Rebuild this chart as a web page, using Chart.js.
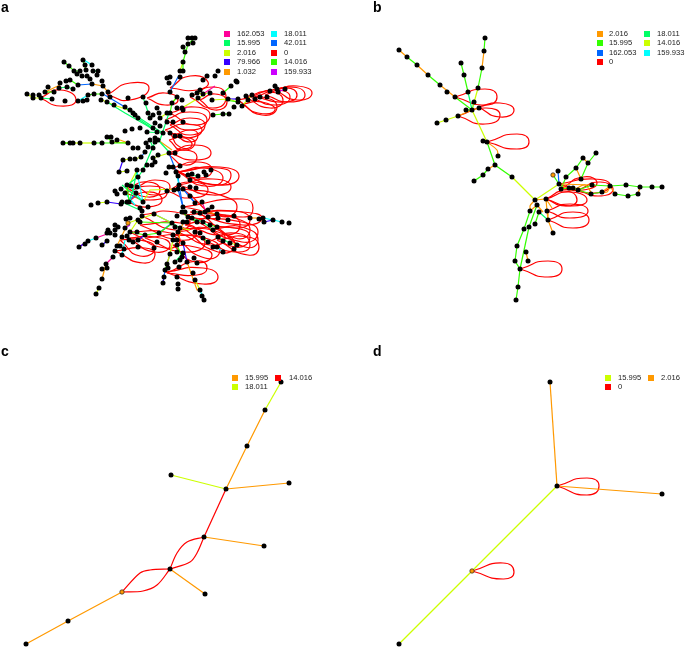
<!DOCTYPE html>
<html>
<head>
<meta charset="utf-8">
<title>Mass difference networks</title>
<script src="https://cdn.jsdelivr.net/npm/chart.js@4"></script>
<style>
  html, body { margin: 0; padding: 0; background: #fff; }
  #page { position: relative; width: 685px; height: 647px; overflow: hidden; font-family: "Liberation Sans", sans-serif; }
  canvas { position: absolute; }
  .letter { position: absolute; font-weight: bold; font-size: 14px; line-height: 14px; color: #000; }
  .swatch { position: absolute; width: 6px; height: 6px; }
  .label { position: absolute; font-size: 7.6px; line-height: 10px; color: #222; white-space: nowrap; }
</style>
</head>
<body>
<div id="page"></div>
<script>
// legend values and colours, column by column
const labelsA = ['162.053', '15.995', '2.016', '79.966', '1.032', '18.011', '42.011', '0', '14.016', '159.933'];
const colorsA = ['#FF0099', '#00FF66', '#CCFF00', '#3300FF', '#FF9900', '#00FFFF', '#0066FF', '#FF0000', '#33FF00', '#CC00FF'];
const labelsB = ['2.016', '15.995', '162.053', '0', '18.011', '14.016', '159.933'];
const colorsB = ['#FF9900', '#33FF00', '#0066FF', '#FF0000', '#00FF66', '#CCFF00', '#00FFFF'];
const labelsC = ['15.995', '18.011', '14.016'];
const colorsC = ['#FF9900', '#CCFF00', '#FF0000'];
const labelsD = ['15.995', '0', '2.016'];
const colorsD = ['#CCFF00', '#FF0000', '#FF9900'];

// nodes (x, y in reference pixels)
const nodesA = [
  [195,38],[192,38],[188,38],[193,43],[188,44],[183,47],[185,52],[183,62],[183,71],[180,71],[180,77],[177,97],[170,77],[167,78],[169,83],[170,92],[172,103],
  [64,62],[69,66],[74,71],[83,60],[92,65],[85,65],[86,70],[80,71],[77,74],[82,76],[93,71],[98,71],[87,76],[90,79],[97,75],[102,81],[78,85],[92,84],[103,86],
  [66,81],[70,80],[60,83],[67,87],[59,88],[48,87],[45,92],[54,92],[73,89],[27,94],[33,95],[33,98],[39,95],[41,98],[52,99],[65,101],[78,101],[83,101],[87,100],
  [88,95],[94,94],[102,94],[101,100],[107,102],[108,92],[110,97],[114,105],[125,107],[128,98],[143,97],[146,103],[130,110],[133,113],[135,115],[138,118],[150,118],
  [157,108],[148,113],[153,115],[159,113],[167,113],[182,100],[192,95],[197,93],[198,98],[203,80],[207,76],[215,76],[218,71],[200,90],[203,94],[210,93],[223,93],
  [231,86],[236,81],[237,82],[228,99],[212,100],[238,99],[238,102],[234,107],[242,106],[246,96],[248,100],[252,95],[255,99],[260,97],[267,97],[270,91],[275,86],
  [277,89],[278,92],[285,89],[213,115],[223,114],[229,114],[182,108],[177,108],[170,113],[183,110],[173,122],[167,122],[160,118],[155,123],[153,128],[157,132],
  [163,133],[170,133],[175,136],[180,136],[183,122],[132,129],[125,131],[140,128],[147,132],[63,143],[70,143],[73,143],[80,143],[94,143],[102,143],[107,137],
  [111,137],[112,142],[128,143],[117,140],[133,148],[138,148],[146,143],[148,147],[155,142],[153,148],[158,140],[169,153],[175,153],[155,138],[150,140],[160,126],
  [123,160],[130,159],[135,159],[119,172],[127,171],[137,170],[141,157],[145,152],[153,158],[155,162],[147,165],[152,165],[143,170],[138,177],[158,155],
  [169,167],[173,167],[180,166],[166,173],[176,172],[178,176],[188,175],[192,174],[198,176],[190,180],[204,172],[211,170],[206,175],[179,185],[167,191],[174,190],
  [178,189],[183,189],[190,187],[196,188],[190,196],[127,185],[131,186],[137,187],[121,189],[115,191],[117,194],[125,193],[136,193],[127,202],[129,202],[122,202],
  [121,204],[107,202],[98,203],[91,205],[143,202],[148,207],[140,208],[142,211],[154,214],[195,203],[202,202],[183,207],[182,212],[185,212],[177,216],[194,212],
  [200,213],[205,212],[212,207],[208,210],[217,214],[188,217],[192,218],[197,222],[203,222],[208,217],[218,218],[228,220],[234,216],[250,218],[259,219],[263,218],
  [264,222],[273,220],[282,222],[289,223],[172,223],[175,227],[183,222],[187,222],[180,228],[173,235],[178,232],[159,233],[195,232],[200,233],[203,238],[208,242],
  [210,225],[213,230],[217,227],[218,237],[223,241],[230,243],[237,245],[234,249],[213,247],[217,247],[223,252],[126,219],[130,218],[138,220],[142,216],[140,222],
  [115,225],[118,227],[108,230],[107,233],[110,233],[115,230],[125,228],[130,232],[137,232],[122,237],[127,236],[115,235],[96,238],[88,241],[85,244],[79,247],
  [107,241],[102,245],[129,240],[133,242],[138,240],[145,235],[138,247],[117,246],[120,246],[115,251],[124,249],[122,255],[113,257],[106,264],[102,269],[107,268],
  [102,279],[99,288],[96,294],[173,240],[177,240],[183,243],[154,248],[157,242],[177,245],[170,254],[177,252],[183,253],[182,257],[175,262],[180,260],[187,262],
  [194,258],[197,263],[167,264],[165,270],[168,268],[179,267],[193,273],[195,280],[177,277],[164,277],[163,283],[178,284],[178,289],[200,290],[202,296],[204,300]
];
const specialNodesA = [[128,223]];
const nodesB = [
  [399,50],[407,57],[417,65],[428,75],[440,85],[447,92],[455,97],[472,110],[485,38],[484,51],[482,68],[478,88],[461,63],[464,75],[468,92],[474,102],[466,110],[479,108],
  [458,116],[446,120],[437,123],[483,141],[487,142],[498,156],[495,165],[512,177],[488,169],[483,175],[474,181],[535,200],[546,199],[537,205],[530,211],[539,212],
  [547,211],[548,220],[553,233],[524,229],[529,227],[535,224],[517,246],[515,261],[526,252],[528,261],[520,269],[518,287],[516,300],[558,171],[559,184],[561,189],
  [566,177],[576,168],[583,158],[588,163],[596,153],[581,179],[569,188],[573,188],[578,190],[592,185],[591,194],[602,192],[610,186],[615,194],[626,185],[628,196],
  [638,194],[640,187],[652,187],[662,187]
];
const specialNodesB = [[553,175]];
const nodesC = [[170,569],[204,537],[226,489],[247,446],[265,410],[281,382],[171,475],[289,483],[264,546],[205,594],[68,621],[26,644]];
const specialNodesC = [[122,592]];
const nodesD = [[550,382],[557,486],[662,494],[399,644]];
const specialNodesD = [[472,571]];

// straight edges: legend value, then polylines as x,y,x,y...
const edgesA = [
  ['14.016', [[183,47,185,52],[183,62,183,71],[195,38,188,44,183,62],[64,62,69,66,74,71,80,71],[83,60,86,70],[45,92,54,92],[66,81,70,80,78,85],[213,115,223,114,229,114],[170,113,172,103,177,97],[223,93,231,86],[88,95,94,94,102,94],[182,212,188,217,197,222],[159,233,173,223],[130,232,145,235,159,233],[203,238,208,242],[210,225,217,227],[165,270,167,264],[140,222,172,223],[177,245,182,257],[63,143,70,143],[94,143,102,143,128,143],[107,137,112,142],[129,202,127,185],[225,100,238,102]]],
  ['15.995', [[107,102,125,113,146,125,157,132],[125,107,140,120,155,130],[135,115,150,125,163,133],[143,97,150,118],[155,142,143,170,138,177,127,185],[147,132,163,133],[122,202,142,211],[137,170,133,190,129,202],[143,202,122,185],[169,113,160,140],[41,98,52,99],[93,71,98,71],[59,88,67,87,73,89],[153,148,150,140],[158,140,170,153],[188,175,198,176],[192,218,203,222,213,230],[172,223,180,228],[194,212,205,212],[218,237,230,243],[175,262,183,253]]],
  ['2.016', [[27,94,33,98,41,98],[63,143,94,143],[177,97,172,103],[102,100,114,105,128,110],[167,113,160,118],[212,100,228,99,238,102],[242,106,252,95],[143,202,150,190,178,189],[119,172,127,171],[123,160,130,159],[135,159,141,157],[137,170,125,193],[98,203,107,202],[128,223,154,214],[154,214,172,223],[130,232,138,220],[167,264,170,254],[99,288,96,294],[200,290,195,280],[173,240,170,254],[153,158,169,153],[183,62,180,71],[203,94,197,93],[182,108,207,93],[237,245,230,243],[112,142,128,143],[180,228,190,230]]],
  ['79.966', [[107,202,121,204],[119,172,127,171],[163,283,164,277],[79,247,88,241],[102,245,107,241],[123,160,119,172],[183,243,187,262],[238,99,228,99],[264,222,273,220],[170,254,167,264],[138,240,145,235]]],
  ['1.032', [[92,84,103,86,108,92],[45,92,60,85],[102,279,106,264],[117,246,128,223],[187,262,197,290,200,290],[250,218,263,218],[183,222,177,245],[126,219,128,223],[205,212,217,214],[172,150,158,140],[120,140,128,143]]],
  ['18.011', [[78,101,88,95],[178,189,179,185,176,172],[143,202,138,177,137,170],[122,255,125,240],[84,60,92,65],[217,247,223,252],[263,218,273,220,282,222],[200,290,204,300],[130,186,143,202],[88,241,96,238],[125,193,135,205]]],
  ['42.011', [[170,92,178,77],[103,94,125,107],[78,85,92,84],[169,153,178,176,179,185,183,207],[154,214,172,223],[178,189,183,207],[172,223,159,233],[145,152,141,157],[135,195,127,202],[195,203,190,196],[163,283,165,270],[183,189,195,203]]],
  ['162.053', [[203,94,215,86],[96,238,107,234],[106,264,113,257],[187,107,183,110],[208,217,202,202],[88,241,79,247]]],
  ['159.933', [[278,92,285,89],[125,228,130,225],[213,247,217,247]]]
];
const edgesB = [
  ['2.016', [[399,50,407,57],[417,65,428,75],[440,85,455,97],[484,51,482,68],[479,108,472,110],[458,116,472,110],[495,165,488,169],[537,205,530,211],[526,252,528,261],[535,200,546,199,547,211,548,220,553,233],[576,168,581,179],[588,163,583,158],[640,187,638,194],[615,194,610,186,602,192],[559,184,592,185]]],
  ['15.995', [[407,57,417,65],[428,75,440,85],[455,97,472,110],[485,38,484,51],[482,68,478,88],[461,63,464,75,468,92],[466,110,472,110],[487,142,495,165,512,177],[488,169,483,175,474,181],[530,211,524,229,517,246,515,261,520,269,518,287,516,300],[529,227,520,269],[535,224,539,212],[529,227,537,205],[559,184,553,175],[561,189,566,177,576,168,583,158],[581,179,588,163,596,153],[561,189,569,188,573,188,578,190,592,185,610,186,626,185,640,187,652,187,662,187],[638,194,628,196,615,194],[602,192,591,194,578,190]]],
  ['18.011', [[468,92,472,110],[539,212,548,220]]],
  ['14.016', [[478,88,472,110],[472,110,487,142],[512,177,535,200],[535,200,559,184],[458,116,446,120,437,123]]],
  ['159.933', [[474,102,472,110]]],
  ['162.053', [[559,184,558,171]]]
];
const edgesC = [
  ['15.995', [[26,644,68,621,122,592],[226,489,247,446,265,410],[226,489,289,483],[204,537,264,546],[170,569,205,594]]],
  ['18.011', [[265,410,281,382],[171,475,226,489]]],
  ['14.016', [[204,537,226,489]]]
];
const edgesD = [
  ['15.995', [[399,644,472,571,557,486]]],
  ['2.016', [[550,382,557,486],[557,486,662,494]]]
];

// curved edges between two nodes, with points
const curvesB = [
  ['2.016', [[487,142,497,150,498,156],[535,200,530,206,531,211],[537,205,543,212],[546,199,552,208],[559,184,572,190,585,185,592,194],[602,192,607,192,610,186]]]
];
const curvesC = [
  ['14.016', [[122,592,140,573,150,570,170,569],[122,592,143,591,157,585,170,569],[170,569,177,553,187,542,204,537],[170,569,190,562,197,553,204,537]]]
];

// self loops: node, upper side, far end, lower side
const loopsA = [
  [40,98,60,90,76,100,60,106],[107,95,130,83,149,88,130,100],[170,88,190,76,208,82,197,90],[190,97,213,87,226,97,213,108],[147,98,165,93,178,100,165,105],[200,100,215,94,227,102,215,110],
  [238,100,262,97,277,107,262,115],[245,97,270,92,283,100,270,108],[250,97,275,90,290,97,275,105],[255,97,285,88,297,95,285,102],[275,90,297,86,312,93,297,100],[265,95,290,87,305,95,290,102],[242,104,262,102,275,110,258,113],
  [170,113,195,107,210,115,195,125],[165,120,190,112,207,120,190,130],[170,125,190,118,205,125,190,135],[165,130,185,124,202,130,185,138],[175,135,190,130,198,135,190,142],[170,133,182,136,192,145,180,147],
  [169,153,195,145,211,153,195,160],[169,140,184,137,195,143,182,150],[169,155,185,150,197,157,185,165],
  [177,172,220,167,239,176,220,185],[178,172,217,168,231,175,217,185],[178,172,205,168,223,178,205,186],[172,168,198,162,212,170,198,178],
  [167,191,190,182,208,190,190,198],[179,185,213,179,231,187,213,195],[125,193,150,186,167,193,150,200],[127,202,147,192,162,200,147,207],[137,187,155,180,170,187,155,195],[127,188,148,182,160,190,148,197],
  [183,189,220,195,237,207,220,216],[183,207,243,199,253,208,243,217],[190,212,243,212,262,218,243,225],[200,213,235,218,250,230,235,238],[217,240,248,237,259,247,248,255],[217,227,245,228,258,240,245,247],[210,230,235,228,250,237,235,247],[208,242,235,233,250,245,235,252],
  [115,251,145,248,155,255,143,263],[140,215,175,212,190,222,175,230],[140,225,180,223,197,232,180,240],[130,232,165,232,180,240,165,248],[128,238,155,237,170,245,155,252],[145,238,185,235,205,243,185,252],
  [173,235,205,238,220,250,205,258],[173,245,195,247,212,255,195,262],[178,232,210,228,225,238,210,245],[185,225,225,215,240,225,225,235],[185,215,235,211,250,220,235,228],[183,228,218,232,235,245,218,252],[190,218,242,222,258,232,242,242],[120,240,140,240,155,248,140,256],
  [165,272,203,268,218,277,203,284],[167,273,197,261,207,268,197,275]
];
const loopsB = [
  [455,97,485,89,497,97,485,105],[478,107,500,103,514,110,500,117],[458,116,485,108,500,115,485,124],[487,142,517,134,529,142,517,149],
  [546,199,565,191,577,200,565,206],[547,211,570,204,588,211,570,218],[548,220,573,212,589,220,573,228],[546,199,570,192,587,200,570,206],
  [561,189,583,177,597,183,583,190],[559,184,593,179,610,185,593,193],[578,190,600,182,613,190,598,196],[520,269,548,261,562,269,548,277]
];
const loopsD = [[557,486,587,478,599,486,587,495],[472,571,503,563,514,572,503,579]];

const panels = [
  { letter: 'a', lx: 1, ly: 0, box: [0, 0, 342, 323], nodes: nodesA, special: specialNodesA, edges: edgesA, curves: [], loops: loopsA, labels: labelsA, colors: colorsA, rows: 5, sx: [224, 271], tx: [237, 284], ty: 34 },
  { letter: 'b', lx: 373, ly: 0, box: [342, 0, 343, 323], nodes: nodesB, special: specialNodesB, edges: edgesB, curves: curvesB, loops: loopsB, labels: labelsB, colors: colorsB, rows: 4, sx: [597, 644], tx: [609, 657], ty: 34 },
  { letter: 'c', lx: 1, ly: 344, box: [0, 323, 342, 324], nodes: nodesC, special: specialNodesC, edges: edgesC, curves: curvesC, loops: [], labels: labelsC, colors: colorsC, rows: 2, sx: [232, 275], tx: [245, 289], ty: 378 },
  { letter: 'd', lx: 373, ly: 344, box: [342, 323, 343, 324], nodes: nodesD, special: specialNodesD, edges: edgesD, curves: [], loops: loopsD, labels: labelsD, colors: colorsD, rows: 2, sx: [605, 648], tx: [618, 661], ty: 378 }
];

function toPoints(flat) {
  const pts = [];
  for (let i = 0; i < flat.length; i += 2) pts.push({ x: flat[i], y: flat[i + 1] });
  return pts;
}

function lineDataset(points, color, tension) {
  return {
    data: points,
    showLine: true,
    borderColor: color,
    borderWidth: 1.2,
    pointRadius: 0,
    tension: tension,
    fill: false,
    clip: false
  };
}

// chart.js paints the first dataset last, so dots go first and loops go last
function buildDatasets(p) {
  const colorOf = label => p.colors[p.labels.indexOf(label)];
  const sets = [];
  sets.push({
    data: p.special.map(n => ({ x: n[0], y: n[1] })),
    showLine: false,
    pointRadius: 2.2,
    pointBackgroundColor: '#FF9900',
    pointBorderColor: '#222',
    pointBorderWidth: 0.7,
    clip: false
  });
  sets.push({
    data: p.nodes.map(n => ({ x: n[0], y: n[1] })),
    showLine: false,
    pointRadius: 2.5,
    pointBackgroundColor: '#000',
    pointBorderWidth: 0,
    clip: false
  });
  p.edges.forEach(([label, lines]) => {
    lines.forEach(line => sets.push(lineDataset(toPoints(line), colorOf(label), 0)));
  });
  p.curves.forEach(([label, lines]) => {
    lines.forEach(line => sets.push(lineDataset(toPoints(line), colorOf(label), 0.35)));
  });
  const loopColor = p.labels.includes('0') ? colorOf('0') : '#FF0000';
  p.loops.forEach(l => {
    sets.push(lineDataset(toPoints(l.concat([l[0], l[1]])), loopColor, 0.62));
  });
  return sets;
}

function addDiv(page, cls, left, top, text) {
  const el = document.createElement('div');
  el.className = cls;
  el.style.left = left + 'px';
  el.style.top = top + 'px';
  if (text) el.textContent = text;
  page.appendChild(el);
  return el;
}

const page = document.getElementById('page');

panels.forEach(p => {
  const [bx, by, bw, bh] = p.box;
  const canvas = document.createElement('canvas');
  canvas.width = bw;
  canvas.height = bh;
  canvas.style.left = bx + 'px';
  canvas.style.top = by + 'px';
  page.appendChild(canvas);

  new Chart(canvas.getContext('2d'), {
    type: 'scatter',
    data: { datasets: buildDatasets(p) },
    options: {
      responsive: false,
      animation: false,
      layout: { padding: 0, autoPadding: false },
      plugins: { legend: { display: false }, tooltip: { enabled: false } },
      scales: {
        x: { type: 'linear', display: false, min: bx, max: bx + bw },
        y: { type: 'linear', display: false, reverse: true, min: by, max: by + bh }
      }
    }
  });

  addDiv(page, 'letter', p.lx, p.ly, p.letter);

  // legend fills column by column
  p.labels.forEach((label, i) => {
    const col = Math.floor(i / p.rows);
    const row = i % p.rows;
    const cy = p.ty + row * 9.4;
    const sw = addDiv(page, 'swatch', p.sx[col], cy - 3);
    sw.style.background = p.colors[i];
    addDiv(page, 'label', p.tx[col], cy - 5, label);
  });
});
</script>
</body>
</html>
